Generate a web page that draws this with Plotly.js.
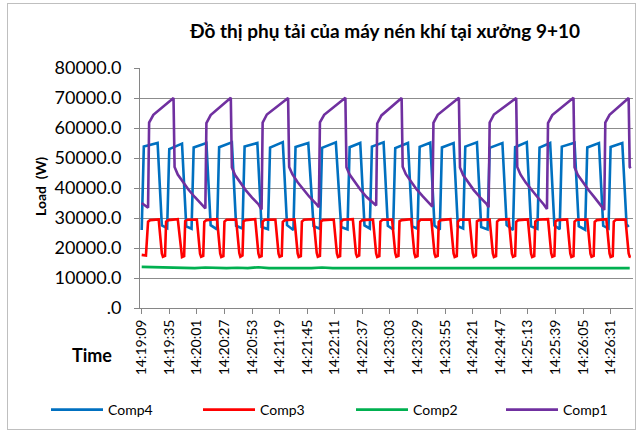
<!DOCTYPE html>
<html>
<head>
<meta charset="utf-8">
<script src="https://cdn.plot.ly/plotly-3.0.1.min.js"></script>
<style>
  html, body { margin: 0; padding: 0; background: #ffffff; }
  #wrap { position: relative; width: 640px; height: 434px; }
  #chart { width: 640px; height: 434px; }
  #frame { position: absolute; left: 7px; top: 3px; width: 627px; height: 425px; border: 1px solid #bfbfbf; pointer-events: none; }
</style>
</head>
<body>
<div id="wrap"><div id="chart"></div><div id="frame"></div></div>
<script>
// seconds after 14:19:09
const seriesNames = ["Comp4", "Comp3", "Comp2", "Comp1"];
const tickLabelsY = [".0", "10000.0", "20000.0", "30000.0", "40000.0", "50000.0", "60000.0", "70000.0", "80000.0"];
const tickValsY = [0, 10000, 20000, 30000, 40000, 50000, 60000, 70000, 80000];

const tComp4 = [0,2,15,19, 24,26,38,42, 47,49,61,65, 71,73,85,89, 95,97,109,113, 119,121,133,137, 143,145,157,162, 168,170,183,188, 194,196,206,210, 215,217,228,232, 237,239,251,255, 260,262,272,276, 281,283,294,298, 303,305,316,320, 326,328,340,344, 350,352,363,367, 373,375,385,389, 394,396,408,412, 418,420,431,435, 440,442,453,457,459];
const vComp4 = [26000,53800,55000,27500, 26600,53000,54800,27200, 26400,53500,55000,27600, 26200,53600,55200,27400, 26500,53800,55000,27000, 26300,53500,55300,27600, 26000,53700,55000,27300, 26400,53400,55200,27000, 26200,53600,55000,27500, 26500,53800,55200,27400, 26200,53300,55000,27200, 26400,53700,55100,27500, 26100,53500,55000,27300, 26500,53800,55200,27000, 26200,53400,55000,27600, 26000,53600,55300,27200, 26400,53500,55000,27500, 26300,53800,55100,27300, 26100,53500,55000,27400, 26500,53700,55000,28000,27000];

const tComp3 = [0,4,6,8,
 16,19,20,22,23,25,
 34,37,38,40,41,43,
 52,55,56,58,59,61,
 71,74,75,77,78,80,
 89,92,93,95,96,98,
 107,110,111,113,114,116,
 126,129,130,132,133,135,
 144,147,148,150,151,153,
 162,165,166,168,169,171,
 181,184,185,187,188,190,
 199,202,203,205,206,208,
 218,221,222,224,225,227,
 236,239,240,242,243,245,
 254,257,258,260,261,263,
 273,276,277,279,280,282,
 291,294,295,297,298,300,
 309,312,313,315,316,318,
 328,331,332,334,335,337,
 346,349,350,352,353,355,
 364,367,368,370,371,373,
 383,386,387,389,390,392,
 401,404,405,407,408,410,
 420,423,424,426,427,429,
 438,441,442,444,445,447,
 456,459,460,461];
const vComp3 = [17700,17500,28800,29300,
 29500,18200,17100,17400,28800,29300,
 29600,18300,17000,17300,28900,29400,
 29500,18100,17100,17400,28700,29300,
 29600,18200,17000,17300,28800,29400,
 29500,18300,17100,17500,28900,29300,
 29600,18200,17000,17300,28800,29400,
 29500,18100,17100,17400,28700,29300,
 29500,18200,17000,17300,28800,29400,
 29600,18300,17100,17400,28900,29300,
 29500,18200,17000,17300,28800,29400,
 29600,18100,17100,17500,28700,29300,
 29500,18200,17000,17300,28800,29400,
 29500,18300,17100,17400,28900,29300,
 29600,18200,17000,17300,28800,29400,
 29500,18100,17100,17400,28700,29300,
 29600,18200,17000,17300,28800,29400,
 29500,18300,17100,17500,28900,29300,
 29500,18200,17000,17300,28800,29400,
 29600,18100,17100,17400,28700,29300,
 29500,18200,17000,17300,28800,29400,
 29600,18300,17100,17400,28900,29300,
 29500,18200,17000,17300,28800,29400,
 29500,18100,17100,17400,28700,29300,
 29600,18200,17000,17300,28800,29400,
 29500,18200,17100,17000];

const tComp2 = [0,10,20,30,40,50,60,70,80,90,100,110,120,130,140,150,160,170,180,190,200,210,220,230,240,250,260,270,280,290,300,310,320,330,340,350,360,370,380,390,400,410,420,430,440,450,460];
const vComp2 = [13700,13600,13500,13600,13400,13300,13500,13300,13300,13400,13300,13600,13300,13300,13400,13300,13300,13500,13300,13300,13400,13300,13500,13300,13300,13400,13300,13300,13500,13300,13400,13300,13300,13500,13300,13400,13300,13300,13500,13300,13400,13300,13300,13500,13300,13400,13300];

const tComp1 = [0,6,
 7,11,30,31,34,39,44,50,56,60,
 61,65,84,85,88,93,98,104,110,113,
 114,118,138,139,142,147,152,158,164,167,
 168,172,192,193,196,201,206,212,218,221,
 222,226,245,246,249,254,259,265,271,274,
 275,279,299,300,303,308,313,319,325,327,
 328,332,353,354,357,362,367,373,379,382,
 383,387,407,408,411,416,421,427,433,436,
 437,441,459,460,461];
const vComp1 = [35000,33400,
 61800,64400,70000,47000,44500,41800,39500,37000,34800,33200,
 61600,64300,70100,46800,44300,41600,39300,36800,34600,32800,
 61800,64500,70000,47000,44600,41900,39600,37100,34900,33600,
 61900,64400,70100,46900,44500,41800,39500,37000,35000,34200,
 61500,64200,70000,47100,44600,41900,39600,37200,34900,33800,
 61700,64400,70100,46800,44300,41600,39300,36900,34700,33600,
 61800,64500,70000,47000,44500,41800,39500,37000,34500,33000,
 61600,64300,70100,46900,44400,41700,39400,36800,34200,32700,
 61800,64400,70000,47000,46600];

const seriesColors = ["#0070C0", "#FF0000", "#00B050", "#7030A0"];

const base = Date.UTC(2021, 0, 1, 14, 19, 9);
const toX = arr => arr.map(s => base + s * 1000);

const tSets = [tComp4, tComp3, tComp2, tComp1];
const vSets = [vComp4, vComp3, vComp2, vComp1];
const legendIds = ["legend", "legend2", "legend3", "legend4"];

const traces = seriesNames.map((n, i) => ({
  type: "scatter", mode: "lines", name: n,
  x: toX(tSets[i]), y: vSets[i],
  line: { color: seriesColors[i], width: 2.6 },
  legend: legendIds[i],
  hoverinfo: "skip"
}));

const FONT = "Lato, 'Liberation Sans', sans-serif";

const legendX = [46, 198, 351, 501];
const mkLegend = px => ({
  orientation: "h",
  xref: "container", yref: "container",
  x: px / 640, xanchor: "left",
  y: 1 - 410 / 434, yanchor: "middle",
  font: { family: FONT, size: 14, color: "#000000" },
  itemwidth: 52,
  bgcolor: "rgba(0,0,0,0)"
});

const layout = {
  width: 640, height: 434,
  margin: { l: 140, r: 7, t: 68, b: 126 },
  paper_bgcolor: "#ffffff", plot_bgcolor: "#ffffff",
  showlegend: true,
  font: { family: FONT, color: "#000000" },
  title: {
    text: "<b>Đồ thị phụ tải của máy nén khí tại xưởng 9+10</b>",
    font: { family: FONT, size: 19, color: "#000000" },
    xref: "container", x: 385 / 640, xanchor: "center",
    yref: "container", y: 1 - 31 / 434, yanchor: "middle"
  },
  xaxis: {
    type: "date",
    range: [base - 1600, base + 463100],
    tickmode: "linear", tick0: base, dtick: 26000,
    tickformat: "%H:%M:%S", tickangle: -90,
    tickfont: { family: FONT, size: 14, color: "#000000" },
    showgrid: false, zeroline: false,
    showline: true, linecolor: "#868686", linewidth: 1,
    ticks: "outside", ticklen: 5, tickcolor: "#868686",
    fixedrange: true
  },
  yaxis: {
    range: [0, 80000],
    tickmode: "array", tickvals: tickValsY, ticktext: tickLabelsY,
    tickfont: { family: FONT, size: 18, color: "#000000" },
    ticklabelstandoff: 9,
    showgrid: true, gridcolor: "#8c8c8c", gridwidth: 1,
    zeroline: false,
    showline: true, linecolor: "#868686", linewidth: 1,
    ticks: "outside", ticklen: 5, tickcolor: "#868686",
    fixedrange: true
  },
  legend: mkLegend(legendX[0]),
  legend2: mkLegend(legendX[1]),
  legend3: mkLegend(legendX[2]),
  legend4: mkLegend(legendX[3]),
  annotations: [
    { text: "<b>Load  (W)</b>", xref: "paper", yref: "paper",
      x: (40 - 140) / 493, y: (308 - 187) / 240, textangle: -90,
      showarrow: false, xanchor: "center", yanchor: "middle",
      font: { family: FONT, size: 14, color: "#000000" } },
    { text: "<b>Time</b>", xref: "paper", yref: "paper",
      x: (92 - 140) / 493, y: -(355 - 308) / 240,
      showarrow: false, xanchor: "center", yanchor: "middle",
      font: { family: FONT, size: 18, color: "#000000" } }
  ]
};

Plotly.newPlot("chart", traces, layout, { displayModeBar: false, staticPlot: true });
</script>
</body>
</html>
